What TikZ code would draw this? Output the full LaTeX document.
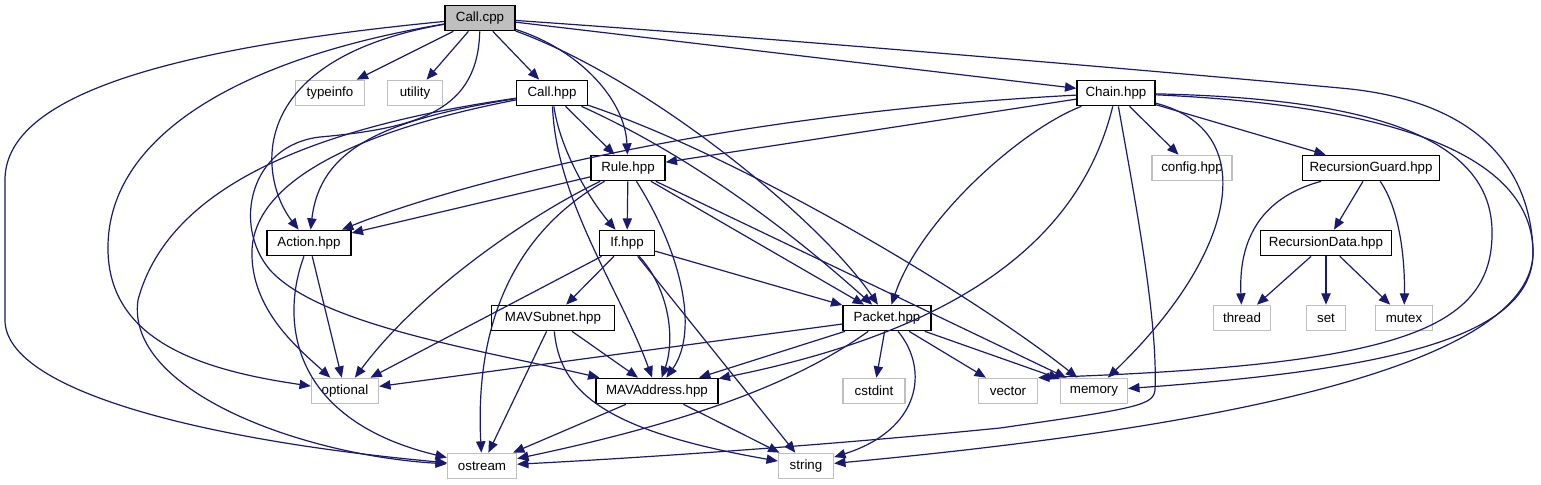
\documentclass[tikz,border=0pt]{standalone}
\usepackage{fontspec}
\setmainfont{Liberation Sans}
\usetikzlibrary{arrows.meta}
\definecolor{edgeblue}{HTML}{191970}
\definecolor{leafgray}{HTML}{BFBFBF}
\begin{document}
\begin{tikzpicture}[x=0.75pt, y=-0.75pt, >={Triangle[length=8.5pt, width=7pt]},
  every node/.style={font=\fontsize{10}{12}\selectfont, minimum height=19pt, inner sep=0pt},
  hfile/.style={draw=black, line width=1pt, fill=white},
  sysfile/.style={draw=leafgray, line width=1pt, fill=white},
  dep/.style={->, color=edgeblue, line width=0.9pt}]
  \useasboundingbox (0,0) rectangle (1541,485);
  \node[hfile, fill=leafgray, minimum width=52.5pt] (callcpp) at (480,18) {Call.cpp};
  \node[sysfile, minimum width=51.75pt] (typeinfo) at (330,93) {typeinfo};
  \node[sysfile, minimum width=41.25pt] (utility) at (415,93) {utility};
  \node[hfile, minimum width=53.25pt] (callhpp) at (552,93) {Call.hpp};
  \node[hfile, minimum width=58.5pt] (chain) at (1116,93) {Chain.hpp};
  \node[hfile, minimum width=55.5pt] (rule) at (628,168) {Rule.hpp};
  \node[sysfile, minimum width=60pt] (config) at (1192,168) {config.hpp};
  \node[hfile, minimum width=102.75pt] (recguard) at (1371,168) {RecursionGuard.hpp};
  \node[hfile, minimum width=63pt] (action) at (309,243) {Action.hpp};
  \node[hfile, minimum width=41.25pt] (ifhpp) at (627,243) {If.hpp};
  \node[hfile, minimum width=98.25pt] (recdata) at (1326,243) {RecursionData.hpp};
  \node[hfile, minimum width=92.25pt] (mavsubnet) at (553,318) {MAVSubnet.hpp};
  \node[hfile, minimum width=66pt] (packet) at (887,318) {Packet.hpp};
  \node[sysfile, minimum width=42.75pt] (thread) at (1242,318) {thread};
  \node[sysfile, minimum width=29.25pt] (set) at (1326,318) {set};
  \node[sysfile, minimum width=42.75pt] (mutex) at (1404,318) {mutex};
  \node[sysfile, minimum width=50.25pt] (optional) at (345,391) {optional};
  \node[hfile, minimum width=91.5pt] (mavaddr) at (657,391) {MAVAddress.hpp};
  \node[sysfile, minimum width=46.5pt] (cstdint) at (874,391) {cstdint};
  \node[sysfile, minimum width=44.25pt] (vector) at (1008,391) {vector};
  \node[sysfile, minimum width=50.25pt] (memory) at (1094,391) {memory};
  \node[sysfile, minimum width=51.75pt] (ostream) at (482,466) {ostream};
  \node[sysfile, minimum width=41.25pt] (string) at (806,466) {string};

  \foreach \a/\b in {callcpp/typeinfo, callcpp/utility, callcpp/callhpp, callcpp/chain,
      callhpp/rule, rule/action, rule/ifhpp, rule/packet, rule/memory,
      ifhpp/mavsubnet, ifhpp/optional, ifhpp/packet, ifhpp/string,
      mavsubnet/mavaddr, mavsubnet/ostream, mavaddr/ostream, mavaddr/string,
      packet/optional, packet/mavaddr, packet/cstdint, packet/vector, packet/memory,
      action/optional, chain/rule, chain/config, chain/recguard,
      recguard/recdata, recdata/thread, recdata/set, recdata/mutex}
    \draw[dep] (\a) -- (\b);

  \draw[dep] (callcpp) .. controls (150,50) and (5,100) .. (5,180) -- (5,320) .. controls (5,390) and (200,440) .. (ostream);
  \draw[dep] (callcpp) .. controls (230,60) and (110,140) .. (108,245) .. controls (106,340) and (200,370) .. (optional);
  \draw[dep] (callcpp) .. controls (240,60) and (260,180) .. (action);
  \draw[dep] (callcpp) .. controls (580,50) and (625,100) .. (rule);
  \draw[dep] (callcpp) .. controls (650,80) and (820,220) .. (packet);
  \draw[dep] (callcpp) .. controls (478,110) and (420,128) .. (320,137) .. controls (250,145) and (232,225) .. (270,270) .. controls (320,325) and (480,350) .. (mavaddr);
  \draw[dep] (callcpp) .. controls (800,40) and (1200,75) .. (1340,88) .. controls (1480,100) and (1530,170) .. (1533,250) .. controls (1536,340) and (1380,370) .. (memory);

  \draw[dep] (callhpp) .. controls (330,125) and (170,180) .. (138,300) .. controls (125,390) and (300,455) .. (ostream);
  \draw[dep] (callhpp) .. controls (360,130) and (255,180) .. (252,250) .. controls (250,310) and (300,350) .. (optional);
  \draw[dep] (callhpp) .. controls (380,120) and (320,150) .. (action);
  \draw[dep] (callhpp) .. controls (560,150) and (590,200) .. (ifhpp);
  \draw[dep] (callhpp) .. controls (556,200) and (620,290) .. (mavaddr);
  \draw[dep] (callhpp) .. controls (700,160) and (800,240) .. (packet);
  \draw[dep] (callhpp) .. controls (750,160) and (980,300) .. (memory);

  \draw[dep] (rule) .. controls (530,215) and (420,290) .. (optional);
  \draw[dep] (rule) .. controls (510,235) and (475,330) .. (ostream);
  \draw[dep] (rule) .. controls (680,250) and (700,330) .. (mavaddr);
  \draw[dep] (ifhpp) .. controls (670,290) and (675,340) .. (mavaddr);
  \draw[dep] (mavsubnet) .. controls (560,390) and (600,430) .. (string);
  \draw[dep] (packet) .. controls (800,380) and (700,420) .. (ostream);
  \draw[dep] (packet) .. controls (930,370) and (920,430) .. (string);
  \draw[dep] (action) .. controls (280,320) and (290,420) .. (ostream);

  \draw[dep] (chain) .. controls (700,115) and (440,190) .. (action);
  \draw[dep] (chain) .. controls (1020,130) and (920,220) .. (packet);
  \draw[dep] (chain) .. controls (1080,240) and (960,330) .. (mavaddr);
  \draw[dep] (chain) .. controls (1135,200) and (1158,320) .. (1155,390) .. controls (1153,405) and (1140,408) .. (1000,428) .. controls (800,448) and (600,460) .. (ostream);
  \draw[dep] (chain) .. controls (1260,130) and (1240,250) .. (memory);
  \draw[dep] (chain) .. controls (1350,98) and (1490,130) .. (1492,230) .. controls (1494,330) and (1400,365) .. (vector.north east);
  \draw[dep] (chain) .. controls (1380,105) and (1530,150) .. (1533,250) .. controls (1536,350) and (1300,420) .. (string);

  \draw[dep] (recguard) .. controls (1270,195) and (1238,230) .. (thread);
  \draw[dep] (recguard) .. controls (1400,210) and (1405,260) .. (mutex);
\end{tikzpicture}
\end{document}
